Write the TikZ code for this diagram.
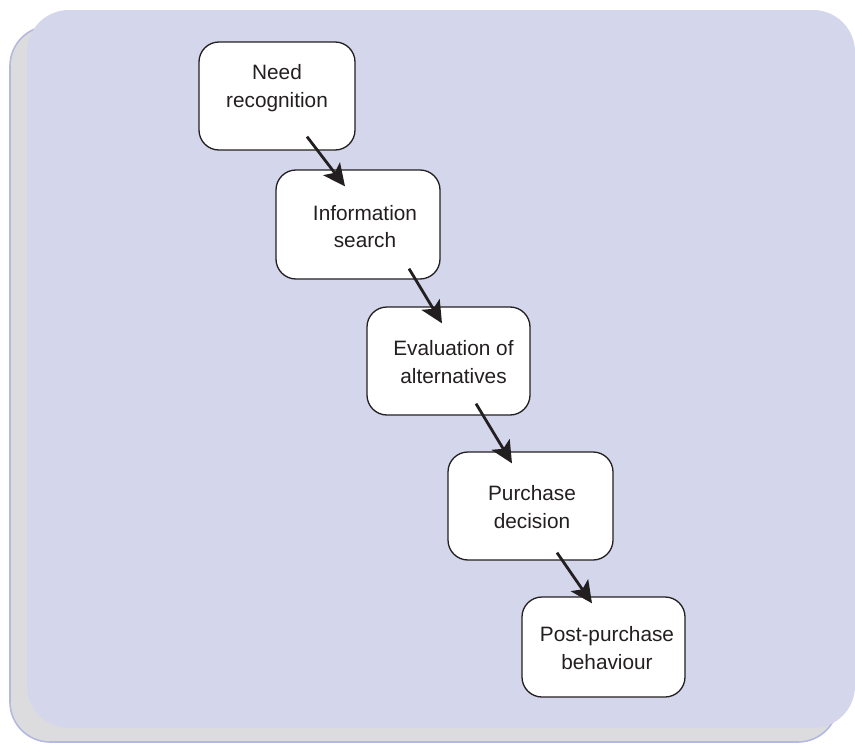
\documentclass[tikz,border=0pt]{standalone}
\usepackage{fontspec}
\setmainfont{Liberation Sans}
\usetikzlibrary{arrows.meta,calc}
\definecolor{panelfill}{HTML}{D4D6EC}
\definecolor{shadowfill}{HTML}{DCDCDE}
\definecolor{shadowline}{HTML}{B4B9E0}
\definecolor{inkgray}{HTML}{231F20}
\tikzset{
  stagebox/.style={draw=inkgray, line width=1.3pt, fill=white,
    rounded corners=20pt, rectangle, inner sep=0pt},
  stagetext/.style={font=\fontsize{20.8}{27.5}\selectfont, text=inkgray,
    align=center, inner sep=0pt},
  flowarrow/.style={draw=inkgray, line width=2.8pt,
    -{Stealth[length=22pt, width=21pt, inset=5pt]}},
}
\begin{document}
\begin{tikzpicture}[x=1pt, y=-1pt]
\useasboundingbox (0,0) rectangle (855,744);
% shadow panel and main panel
\draw[fill=shadowfill, draw=shadowline, line width=1.6pt, rounded corners=40pt]
  (10,26) rectangle (838,742);
\fill[panelfill, rounded corners=42pt] (27,10) rectangle (855,728);

% stage boxes
\node[stagebox, minimum width=156pt, minimum height=108pt] (b1) at (277,96) {};
\node[stagebox, minimum width=164pt, minimum height=109pt] (b2) at (358,224.5) {};
\node[stagebox, minimum width=163pt, minimum height=108pt] (b3) at (448.5,361) {};
\node[stagebox, minimum width=165pt, minimum height=108pt] (b4) at (530.5,506) {};
\node[stagebox, minimum width=163pt, minimum height=100pt] (b5) at (603.5,647) {};

% labels
\node[stagetext] (need)  at ($(b1.center)+(0,-8)$)   {Need\\recognition};
\node[stagetext] (info)  at ($(b2.center)+(7,2)$)    {Information\\search};
\node[stagetext] (eval)  at ($(b3.center)+(5,1)$)    {Evaluation of\\alternatives};
\node[stagetext] (purch) at ($(b4.center)+(1.5,1)$)  {Purchase\\decision};
\node[stagetext] (post)  at ($(b5.center)+(3.5,1)$)  {Post-purchase\\behaviour};

% connectors: each starts just inside one box and ends inside the next
\draw[flowarrow] ($(b1.south)+(30,-14)$) -- ($(b2.north)+(-13,17)$);
\draw[flowarrow] ($(b2.south)+(51,-11)$) -- ($(b3.north)+(-6.5,17)$);
\draw[flowarrow] ($(b3.south)+(27.5,-12)$) -- ($(b4.north)+(-18.5,12)$);
\draw[flowarrow] ($(b4.south)+(26.5,-8)$) -- ($(b5.north)+(-11.5,7)$);
\end{tikzpicture}
\end{document}
